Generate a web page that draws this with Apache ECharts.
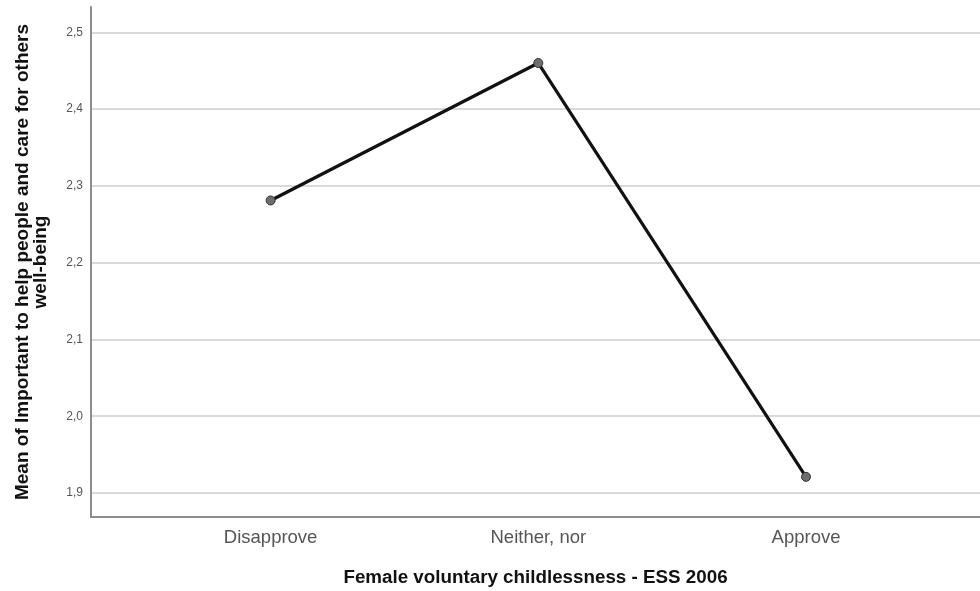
<!DOCTYPE html>
<html>
<head>
<meta charset="utf-8">
<script src="https://cdn.jsdelivr.net/npm/echarts@6/dist/echarts.min.js"></script>
<style>html,body{margin:0;padding:0;background:#fff}#c{width:980px;height:591px}</style>
</head>
<body>
<div id="c"></div>
<script>
const categories = ['Disapprove', 'Neither, nor', 'Approve'];
const means = [2.281, 2.460, 1.921];
const yTicks = [1.9, 2.0, 2.1, 2.2, 2.3, 2.4, 2.5];
const xTitle = 'Female voluntary childlessness - ESS 2006';
const yTitle = 'Mean of Important to help people and care for others\nwell-being';

const chart = echarts.init(document.getElementById('c'), null, {renderer: 'canvas'});
const pts = means.map((v, i) => [i, v]);
const font = 'Arial, "Liberation Sans", sans-serif';
chart.setOption({
  animation: false,
  backgroundColor: '#fff',
  grid: {left: 91, right: 0, top: 7, bottom: 74, containLabel: false, outerBoundsMode: 'none'},
  xAxis: {
    type: 'value', min: -0.671, max: 2.65,
    axisLine: {show: true, onZero: false, lineStyle: {color: '#8c8c8c', width: 2}},
    axisTick: {show: false, customValues: [0, 1, 2]},
    splitLine: {show: false},
    axisLabel: {
      customValues: [0, 1, 2],
      formatter: v => categories[Math.round(v)],
      color: '#555', fontSize: 18.5, fontFamily: font, margin: 11
    },
    name: xTitle, nameLocation: 'middle', nameGap: 51,
    nameTextStyle: {color: '#111', fontSize: 18.8, fontWeight: 'bold', fontFamily: font}
  },
  yAxis: {
    type: 'value', min: 1.8687, max: 2.533,
    axisLine: {show: true, onZero: false, lineStyle: {color: '#8c8c8c', width: 2}},
    axisTick: {show: false, customValues: yTicks},
    splitLine: {show: true, customValues: yTicks, lineStyle: {color: '#d9d9d9', width: 2}},
    axisLabel: {
      customValues: yTicks,
      formatter: v => v.toFixed(1).replace('.', ','),
      color: '#555', fontSize: 12, fontFamily: font, margin: 8
    },
    name: yTitle, nameLocation: 'middle', nameGap: 41, nameRotate: 90,
    nameTextStyle: {color: '#111', fontSize: 19, fontWeight: 'bold', fontFamily: font, lineHeight: 18, align: 'center'}
  },
  series: [{
    type: 'line', data: pts,
    lineStyle: {color: '#111', width: 3.2},
    symbol: 'circle', symbolSize: 9,
    itemStyle: {color: '#6e6e6e', borderColor: '#333', borderWidth: 1},
    z: 5
  }]
});
</script>
</body>
</html>
